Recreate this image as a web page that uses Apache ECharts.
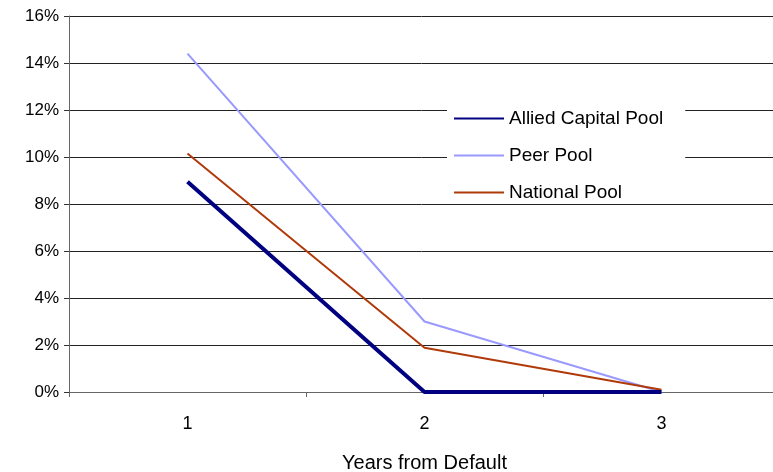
<!DOCTYPE html>
<html><head><meta charset="utf-8">
<script src="https://cdn.jsdelivr.net/npm/echarts@6/dist/echarts.min.js"></script>
<style>html,body{margin:0;padding:0;background:#fff}#c{width:773px;height:472px}</style>
</head><body><div id="c"></div>
<script>
const categories = ['1', '2', '3'];
const alliedCapital = [8.95, 0, 0];
const peerPool = [14.4, 3.0, 0];
const nationalPool = [10.15, 1.88, 0.1];
const yTicks = [0, 2, 4, 6, 8, 10, 12, 14, 16];

const chart = echarts.init(document.getElementById('c'), null, {renderer: 'canvas'});
const font = 'Liberation Sans, Arial, sans-serif';
chart.setOption({
  animation: false,
  textStyle: {fontFamily: font},
  grid: {left: 69, top: 16, width: 711, height: 376, containLabel: false, outerBoundsMode: 'none'},
  legend: {
    orient: 'vertical', left: 447, top: 108,
    backgroundColor: '#fff', padding: [1, 22, 1, 6],
    itemWidth: 50, itemHeight: 10, itemGap: 18,
    itemStyle: {opacity: 0},
    textStyle: {fontSize: 19, lineHeight: 16, color: '#000', fontFamily: font},
    data: ['Allied Capital Pool', 'Peer Pool', 'National Pool']
  },
  xAxis: {
    type: 'category', data: categories, boundaryGap: true,
    name: 'Years from Default', nameLocation: 'middle', nameGap: 61,
    nameTextStyle: {fontSize: 20, color: '#000', fontFamily: font},
    axisLine: {lineStyle: {color: '#666', width: 1}},
    axisTick: {show: true, length: 5, lineStyle: {color: '#666'}},
    axisLabel: {fontSize: 18, color: '#000', margin: 23, fontFamily: font},
    splitLine: {show: false}
  },
  yAxis: {
    type: 'value', min: 0, max: 16, interval: 2,
    axisLine: {show: true, lineStyle: {color: '#666', width: 1}},
    axisTick: {show: true, length: 5, inside: false, lineStyle: {color: '#333'}},
    axisLabel: {fontSize: 17, color: '#000', margin: 10, fontFamily: font,
      formatter: v => yTicks.includes(v) ? v + '%' : ''},
    splitLine: {show: true, lineStyle: {color: '#222', width: 1}}
  },
  series: [
    {name: 'Allied Capital Pool', type: 'line', data: alliedCapital, symbol: 'none',
     lineStyle: {color: '#000080', width: 4}, itemStyle: {color: '#000080'}, z: 5},
    {name: 'Peer Pool', type: 'line', data: peerPool, symbol: 'none',
     lineStyle: {color: '#9999ff', width: 2}, itemStyle: {color: '#9999ff'}, z: 3},
    {name: 'National Pool', type: 'line', data: nationalPool, symbol: 'none',
     lineStyle: {color: '#b03a0a', width: 2}, itemStyle: {color: '#b03a0a'}, z: 4}
  ]
});
</script></body></html>
